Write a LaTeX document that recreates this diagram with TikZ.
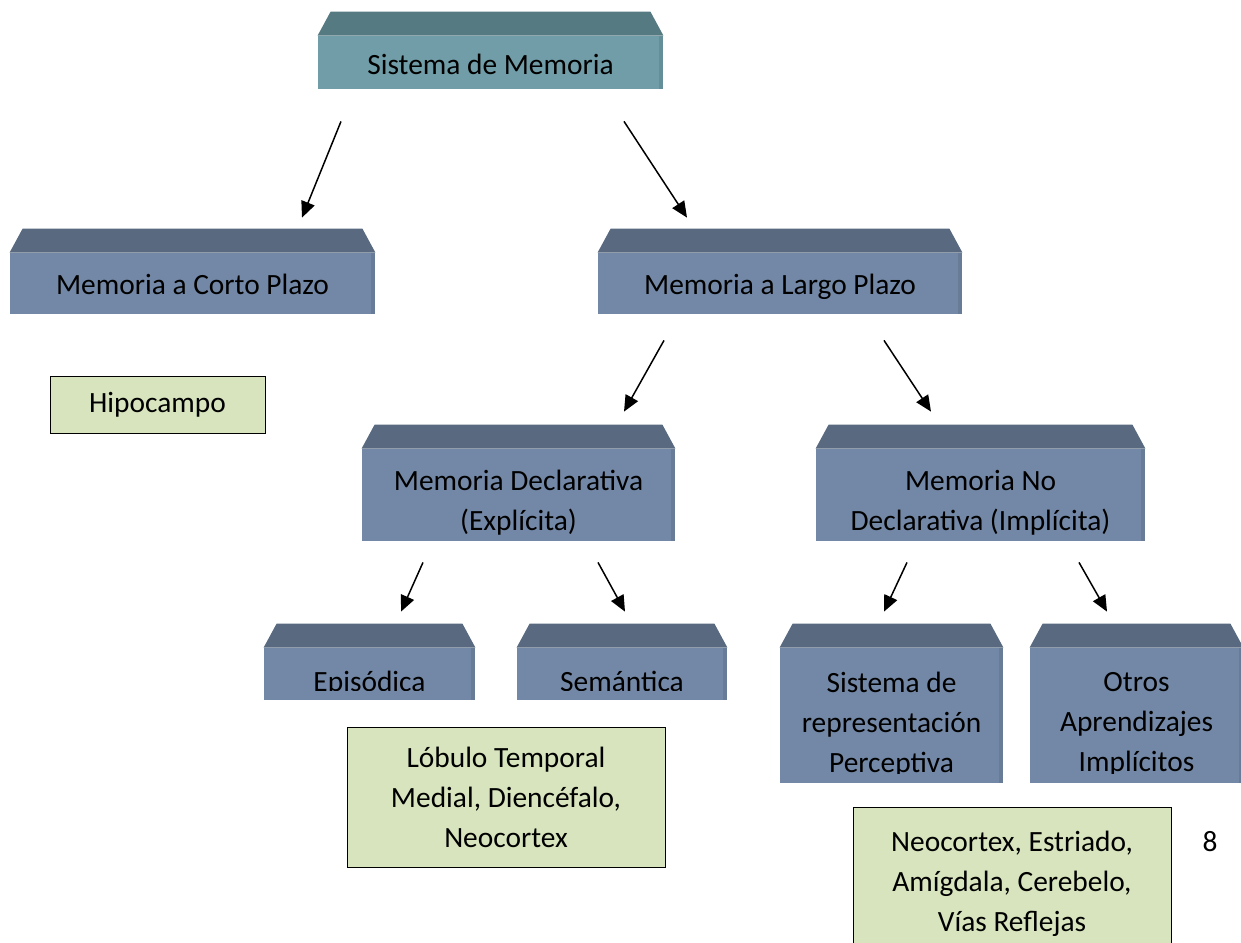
\documentclass[tikz,border=0pt]{standalone}
\usepackage{fontspec}
\setmainfont{Carlito}
\usetikzlibrary{calc}
\usetikzlibrary{arrows.meta}
\definecolor{slate body}{RGB}{115,136,166}
\definecolor{slate top}{RGB}{88,105,128}
\definecolor{slate side}{RGB}{104,124,152}
\definecolor{teal body}{RGB}{112,157,167}
\definecolor{teal top}{RGB}{85,122,130}
\definecolor{teal side}{RGB}{101,143,152}
\definecolor{site colour}{RGB}{215,228,189}
\tikzset{
    % Triangular heads as in the source
    >={Triangle[length=8pt, width=7pt]},
%
    % Boxes of the hierarchy
    body/.style={rectangle, draw=none, inner sep=0},
    label text/.style={anchor=north, inner sep=0, align=center,
        execute at begin node=\strut},
    % Green boxes with the brain areas
    site/.style={draw=black, line width=0.5pt, fill=site colour,
        inner sep=0, align=center},
    link/.style={line width=0.75pt, ->},
    every node/.style={font=\fontsize{14.7pt}{20pt}\selectfont},
}

\begin{document}
\begin{tikzpicture}[x=0.5pt, y=-0.5pt]

\clip (0,0) rectangle (1241,942);

% The bevelled boxes: name/left/right/top/bottom/first baseline/cut/tone/text
\foreach \nm/\l/\r/\t/\b/\base/\cut/\tone/\txt in {
    sistema/318/663/36/89/74/89/teal/{Sistema de Memoria},
    corto/10/375/253/314/294/314/slate/{Memoria a Corto Plazo},
    largo/598/962/253/314/294/314/slate/{Memoria a Largo Plazo},
    declarativa/362/675/449/541/498/541/slate/{Memoria Declarativa\\(Explícita)},
    nodecl/816/1145/449/541/498/541/slate/{Memoria No\\Declarativa (Implícita)},
    episodica/264/475/648/700/691/690/slate/{Episódica},
    semantica/517/727/648/700/691/690/slate/{Semántica},
    sistrep/780/1003/648/783/700/773/slate/{Sistema de\\representación\\Perceptiva},
    otros/1030/1243/648/783/700/773/slate/{Otros\\Aprendizajes\\Implícitos}}
{
    \node [body, fill=\tone\space body,
        minimum width={(\r-\l)*0.5pt}, minimum height={(\b-\t)*0.5pt}]
        (\nm) at ({(\l+\r)/2},{(\t+\b)/2}) {};
    \fill [\tone\space top] (\nm.north west) -- ++(13,-24)
        -- ($(\nm.north east)+(-13,-24)$) -- (\nm.north east) -- cycle;
    \fill [\tone\space side] ($(\nm.north east)+(-4,0)$) rectangle (\nm.south east);
    \begin{scope}
        \clip (\nm.north west) rectangle (\r,\cut);
        \node [label text] (\nm text) at ({(\l+\r)/2},\base-28) {\txt};
    \end{scope}
}

% Brain areas
\node [site, minimum width=107.5pt, minimum height=28.5pt]
    (hipocampo) at (157.5,404.5) {Hipocampo};
\node [site, minimum width=159pt, minimum height=70pt]
    (lobulo) at (506,797) {Lóbulo Temporal\\Medial, Diencéfalo,\\Neocortex};
\node [site, minimum width=159pt, minimum height=77pt]
    (neocortex) at (1012,884) {Neocortex, Estriado,\\Amígdala, Cerebelo,\\Vías Reflejas};
\node (pagina) at (1210,842) {8};

% Arrows between the levels
\foreach \a/\ax/\ay/\b/\bx/\by in {
    sistema.south/-149.5/32/corto.north/109.5/-35,
    sistema.south/133.5/32/largo.north/-93/-35,
    largo.south/-116/26/declarativa.north/105.5/-37,
    largo.south/104/26/nodecl.north/-49.5/-37,
    declarativa.south/-95.5/21/episodica.north/31.5/-36,
    declarativa.south/79.5/21/semantica.north/3/-36,
    nodecl.south/-73.5/21/sistrep.north/-7.5/-36,
    nodecl.south/98.5/21/otros.north/-29.5/-36}
{
    \draw [link] ([shift={(\ax,\ay)}]\a) -- ([shift={(\bx,\by)}]\b);
}

\end{tikzpicture}
\end{document}
